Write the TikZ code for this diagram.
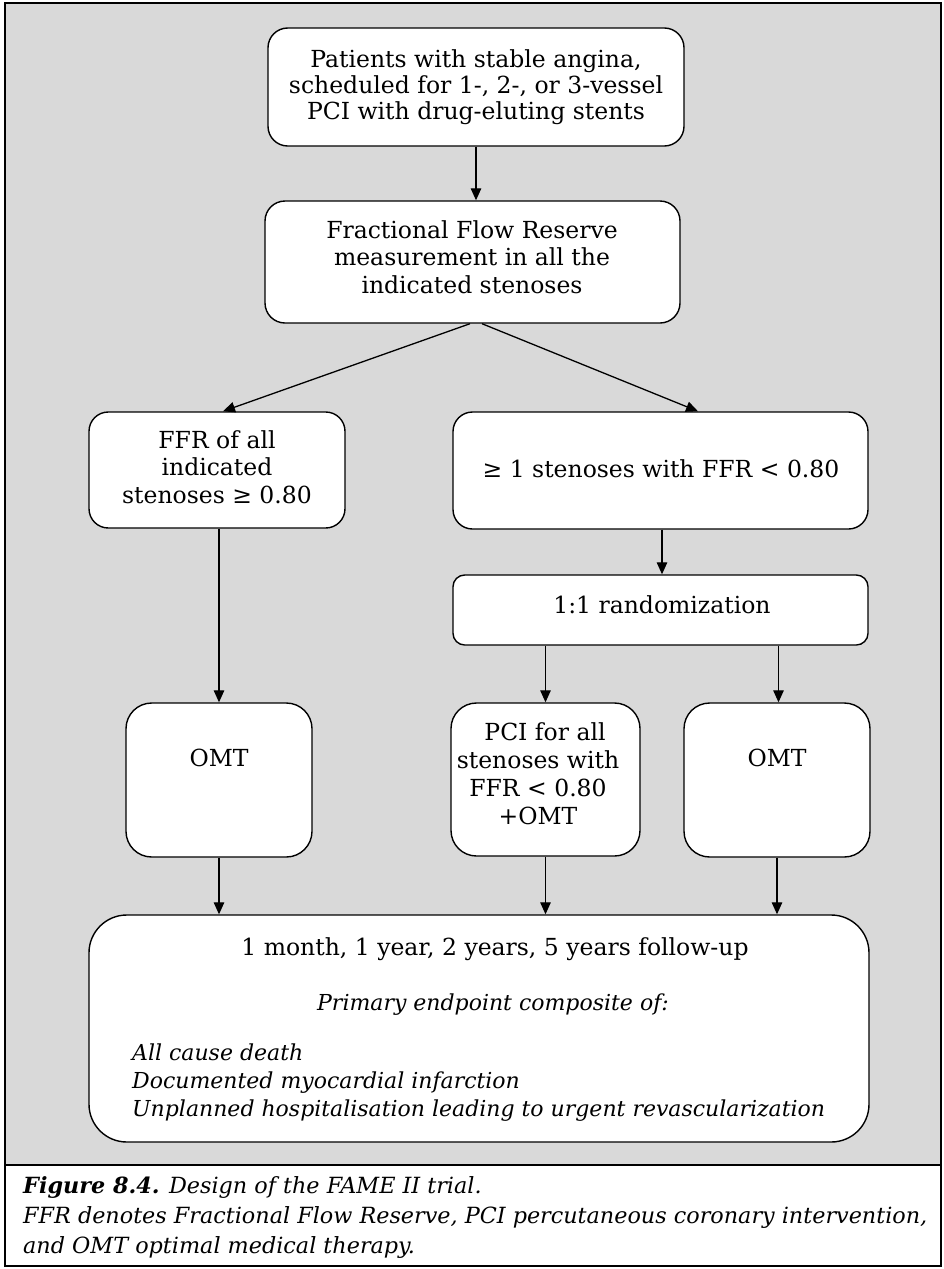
\documentclass[tikz,border=0pt]{standalone}
\usepackage{fontspec}
\setmainfont{DejaVu Serif}
\usetikzlibrary{arrows.meta,calc}

\definecolor{panelgray}{RGB}{217,217,217}

\tikzset{
  box/.style={draw=black, line width=1.4pt, fill=white, inner sep=0pt, shape=rectangle},
  arr/.style={draw=black, line width=1.3pt, -{Triangle[length=12pt,width=10.5pt]}},
  txt/.style={inner sep=0pt, anchor=base, font=\fontsize{23.5}{26}\selectfont},
  itx/.style={txt, font=\fontsize{22}{26}\selectfont\itshape},
  captext/.style={inner sep=0pt, anchor=base west, font=\fontsize{22.3}{26}\selectfont\itshape},
}

\begin{document}
\begin{tikzpicture}[x=1pt,y=-1pt]
\useasboundingbox (0,0) rectangle (944,1269);

% panel and caption frame
\fill[panelgray] (5,3) rectangle (941,1165);
\draw[line width=1.5pt] (5,3) rectangle (941,1266);
\draw[line width=1.5pt] (5,1165) -- (941,1165);

% boxes
\node[box, rounded corners=19.7pt, minimum width=416pt, minimum height=118pt] (b1) at (476,87) {};
\node[box, rounded corners=20pt,   minimum width=415pt, minimum height=122pt] (b2) at (472.5,262) {};
\node[box, rounded corners=19.3pt, minimum width=256pt, minimum height=116pt] (b3) at (217,470) {};
\node[box, rounded corners=19.5pt, minimum width=415pt, minimum height=117pt] (b4) at (660.5,470.5) {};
\node[box, rounded corners=11.7pt, minimum width=415pt, minimum height=70pt]  (b5) at (660.5,610) {};
\node[box, rounded corners=25.7pt, minimum width=186pt, minimum height=154pt] (b6) at (219,780) {};
\node[box, rounded corners=25.5pt, minimum width=189pt, minimum height=153pt] (b7) at (545.5,779.5) {};
\node[box, rounded corners=25.7pt, minimum width=186pt, minimum height=154pt] (b8) at (777,780) {};
\node[box, rounded corners=37.8pt, minimum width=780pt, minimum height=227pt] (b9) at (479,1028.5) {};

% box texts
\node[txt] (t1a) at (476,67)  {Patients with stable angina,};
\node[txt] (t1b) at (476,93)  {scheduled for 1-, 2-, or 3-vessel};
\node[txt] (t1c) at (476,119) {PCI with drug-eluting stents};

\node[txt] (t2a) at (472,238) {Fractional Flow Reserve};
\node[txt] (t2b) at (472,265.5) {measurement in all the};
\node[txt] (t2c) at (472,293) {indicated stenoses};

\node[txt] (t3a) at (217,448) {FFR of all};
\node[txt] (t3b) at (217,475) {indicated};
\node[txt] (t3c) at (217,503) {stenoses ≥ 0.80};

\node[txt] (t4) at (661,477) {≥ 1 stenoses with FFR < 0.80};
\node[txt] (t5) at (662,613) {1:1 randomization};

\node[txt] (t6) at (219,766) {OMT};

\node[txt] (t7a) at (545,740) {PCI for all};
\node[txt] (t7b) at (538,768) {stenoses with};
\node[txt] (t7c) at (538,796) {FFR < 0.80};
\node[txt] (t7d) at (538,824) {+OMT};

\node[txt] (t8) at (777,766) {OMT};

\node[txt] (t9a) at (495,955) {1 month, 1 year, 2 years, 5 years follow-up};
\node[itx] (t9b) at (493,1010) {Primary endpoint composite of:};
\node[itx, anchor=base west] (t9c) at (132,1060) {All cause death};
\node[itx, anchor=base west] (t9d) at (132,1088) {Documented myocardial infarction};
\node[itx, anchor=base west] (t9e) at (132,1116) {Unplanned hospitalisation leading to urgent revascularization};

% connectors
\draw[arr] (b1.south) -- (b1.south |- b2.north);
\draw[arr] ($(b2.south)+(-2.5,0)$) -- ($(b3.north)+(6,0)$);
\draw[arr] ($(b2.south)+(9.5,0)$) -- ($(b4.north)+(37.5,0)$);
\draw[arr] (b6.north |- b3.south) -- (b6.north);
\draw[arr] ($(b4.south)+(1.5,0)$) -- ($(b5.north)+(1.5,0)$);
\draw[arr] (b7.north |- b5.south) -- (b7.north);
\draw[arr] ($(b8.north |- b5.south)+(1.5,0)$) -- ($(b8.north)+(1.5,0)$);
\draw[arr] (b6.south) -- (b6.south |- b9.north);
\draw[arr] (b7.south) -- (b7.south |- b9.north);
\draw[arr] (b8.south) -- (b8.south |- b9.north);

% caption
\node[captext] (c1) at (23,1193) {{\bfseries Figure 8.4.} Design of the FAME II trial.};
\node[captext] (c2) at (23,1223) {FFR denotes Fractional Flow Reserve, PCI percutaneous coronary intervention,};
\node[captext] (c3) at (23,1253) {and OMT optimal medical therapy.};
\end{tikzpicture}
\end{document}
